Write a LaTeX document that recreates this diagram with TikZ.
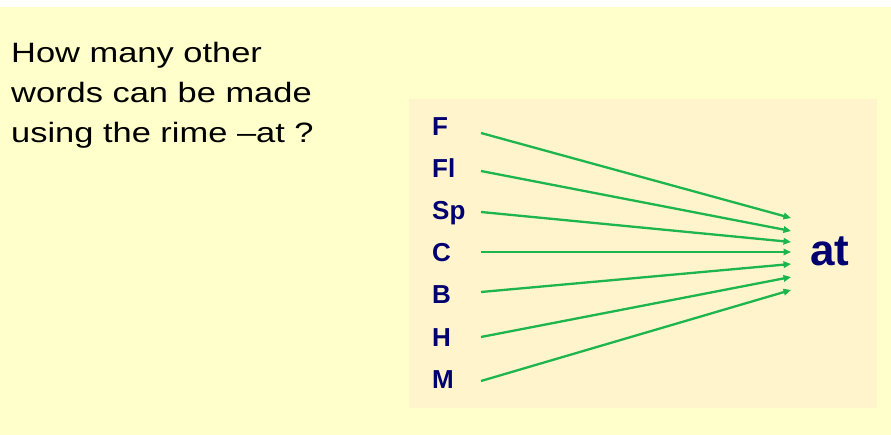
\documentclass[tikz,border=0pt]{standalone}
\usepackage{fontspec}
\setmainfont{Liberation Sans}
\newfontfamily\widefont[FakeStretch=1.23]{Liberation Sans}
\usetikzlibrary{arrows.meta}
\definecolor{outerbg}{HTML}{FFFFCC}
\definecolor{innerbg}{HTML}{FFF4CC}
\definecolor{navy}{HTML}{000070}
\definecolor{arrowgreen}{HTML}{1DB54E}
\begin{document}
\begin{tikzpicture}[x=1pt,y=-1pt,
  letter/.style={anchor=base west,inner sep=0pt,text=navy,font=\fontsize{26}{26}\selectfont\bfseries},
  link/.style={draw=arrowgreen,line width=2.3pt,-{Triangle[length=7.5pt,width=6.5pt]}}]
\useasboundingbox (0,0) rectangle (891,435);
\fill[white] (0,0) rectangle (891,7);
\fill[outerbg] (0,7) rectangle (891,435);
\fill[innerbg] (409,99) rectangle (877,408);
\node[anchor=north west,inner sep=0pt,align=left,font=\widefont\fontsize{28}{40}\selectfont] (q) at (11,42)
  {How many other\\words can be made\\using the rime –at ?};
\node[letter] (l1) at (432,136) {F};
\node[letter] (l2) at (432,178) {Fl};
\node[letter] (l3) at (432,220) {Sp};
\node[letter] (l4) at (432,262) {C};
\node[letter] (l5) at (432,304) {B};
\node[letter] (l6) at (432,346) {H};
\node[letter] (l7) at (432,388) {M};
\node[anchor=base west,inner sep=0pt,text=navy,font=\fontsize{44}{44}\selectfont\bfseries] (at) at (810,266) {at};
\coordinate (s1) at (481,133); \coordinate (e1) at (791,218);
\coordinate (s2) at (481,171); \coordinate (e2) at (791,231);
\coordinate (s3) at (481,212); \coordinate (e3) at (791,242);
\coordinate (s4) at (481,252); \coordinate (e4) at (791,252);
\coordinate (s5) at (481,292); \coordinate (e5) at (791,264);
\coordinate (s6) at (481,337); \coordinate (e6) at (791,277);
\coordinate (s7) at (481,381); \coordinate (e7) at (791,290);
\foreach \i in {1,...,7} \draw[link] (s\i) -- (e\i);
\end{tikzpicture}
\end{document}
